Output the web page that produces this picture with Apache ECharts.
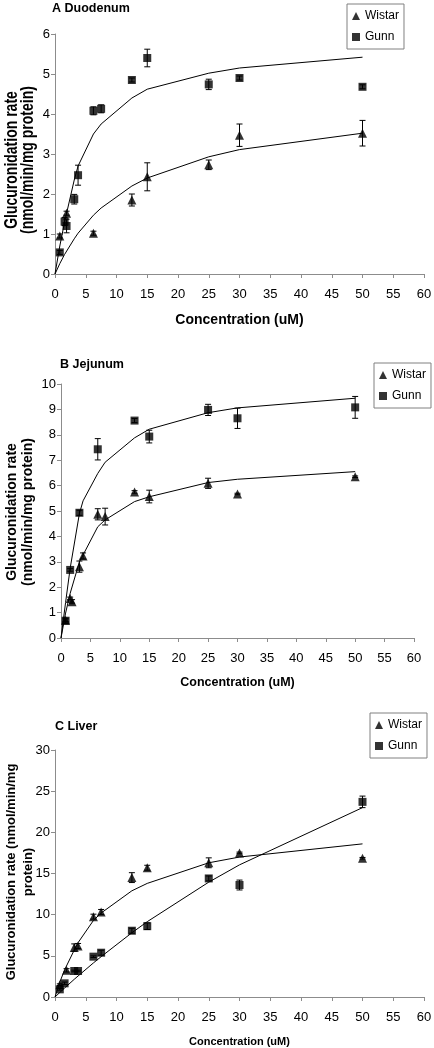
<!DOCTYPE html>
<html><head><meta charset="utf-8">
<script src="https://cdn.jsdelivr.net/npm/echarts@6/dist/echarts.min.js"></script>
<style>html,body{margin:0;padding:0;background:#fff}#c{width:434px;height:1048px}</style>
</head><body><div id="c"></div>
<script>
// ---- text ----
const panelTitles = ['A Duodenum', 'B Jejunum', 'C Liver'];
const seriesNames = ['Wistar', 'Gunn'];
const xAxisTitle = 'Concentration (uM)';
const yAxisTitleLines = [
  ['Glucuronidation rate', '(nmol/min/mg protein)'],
  ['Glucuronidation rate', '(nmol/min/mg protein)'],
  ['Glucuronidation rate (nmol/min/mg', 'protein)']
];
const xMax = 60, xStep = 5;
const yMax = [6, 10, 30];
const yStep = [1, 1, 5];

// ---- Panel A: Duodenum ----
const aWistarConc = [0.78, 1.88, 6.25, 12.5, 15, 25, 30, 50];
const aWistarRate = [0.95, 1.52, 1.02, 1.85, 2.43, 2.73, 3.47, 3.52];
const aWistarErr  = [0.05, 0.05, 0.05, 0.15, 0.35, 0.12, 0.28, 0.32];
const aGunnConc = [0.78, 1.56, 1.88, 3.13, 3.75, 6.25, 7.5, 12.5, 15, 25, 30, 50];
const aGunnRate = [0.54, 1.31, 1.2, 1.87, 2.47, 4.08, 4.13, 4.85, 5.4, 4.74, 4.9, 4.68];
const aGunnErr  = [0.05, 0.1, 0.17, 0.12, 0.25, 0.1, 0.1, 0.05, 0.22, 0.13, 0.05, 0.05];
const aFitConc   = [0, 0.78, 1.56, 3.13, 3.75, 6.25, 7.5, 12.5, 15, 25, 30, 50];
const aWistarFit = [0, 0.26, 0.49, 0.88, 1.02, 1.47, 1.65, 2.2, 2.4, 2.93, 3.11, 3.52];
const aGunnFit   = [0, 0.7, 1.3, 2.35, 2.7, 3.5, 3.75, 4.4, 4.62, 5.02, 5.15, 5.42];

// ---- Panel B: Jejunum ----
const bWistarConc = [0.78, 1.56, 1.88, 3.13, 3.75, 6.25, 7.5, 12.5, 15, 25, 30, 50];
const bWistarRate = [0.7, 1.56, 1.43, 2.81, 3.23, 4.87, 4.78, 5.75, 5.57, 6.09, 5.67, 6.35];
const bWistarErr  = [0.05, 0.05, 0.08, 0.22, 0.12, 0.22, 0.33, 0.05, 0.25, 0.2, 0.03, 0.03];
const bGunnConc = [0.78, 1.56, 3.13, 6.25, 12.5, 15, 25, 30, 50];
const bGunnRate = [0.68, 2.68, 4.93, 7.43, 8.56, 7.93, 8.98, 8.65, 9.08];
const bGunnErr  = [0.1, 0.05, 0.1, 0.42, 0.08, 0.25, 0.22, 0.4, 0.43];
const bFitConc   = [0, 0.78, 1.56, 3.13, 3.75, 6.25, 7.5, 12.5, 15, 25, 30, 50];
const bWistarFit = [0, 0.98, 1.76, 3.0, 3.27, 4.38, 4.65, 5.37, 5.56, 6.12, 6.25, 6.55];
const bGunnFit   = [0, 1.4, 2.75, 4.9, 5.4, 6.48, 6.92, 7.88, 8.22, 8.87, 9.06, 9.44];

// ---- Panel C: Liver ----
const cWistarConc = [0.78, 1.88, 3.13, 3.75, 6.25, 7.5, 12.5, 15, 25, 30, 50];
const cWistarRate = [1.5, 3.24, 6.0, 6.2, 9.76, 10.33, 14.5, 15.7, 16.3, 17.5, 16.85];
const cWistarErr  = [0.1, 0.2, 0.45, 0.3, 0.3, 0.3, 0.6, 0.3, 0.6, 0.1, 0.1];
const cGunnConc = [0.78, 1.56, 3.13, 3.75, 6.25, 7.5, 12.5, 15, 25, 30, 50];
const cGunnRate = [0.93, 1.66, 3.16, 3.16, 4.9, 5.38, 8.05, 8.6, 14.4, 13.6, 23.7];
const cGunnErr  = [0.1, 0.15, 0.1, 0.1, 0.1, 0.3, 0.3, 0.4, 0.3, 0.6, 0.7];
const cFitConc   = [0, 0.78, 1.56, 3.13, 3.75, 6.25, 7.5, 12.5, 15, 25, 30, 50];
const cWistarFit = [0, 1.8, 3.3, 5.7, 6.6, 9.3, 10.2, 12.9, 13.8, 16.3, 17.0, 18.6];
const cGunnFit   = [0, 0.55, 1.09, 2.15, 2.55, 4.14, 4.9, 7.8, 9.15, 13.95, 16.05, 23.0];

const panels = [
  {w: [aWistarConc, aWistarRate, aWistarErr], g: [aGunnConc, aGunnRate, aGunnErr], fit: [aFitConc, aWistarFit, aGunnFit]},
  {w: [bWistarConc, bWistarRate, bWistarErr], g: [bGunnConc, bGunnRate, bGunnErr], fit: [bFitConc, bWistarFit, bGunnFit]},
  {w: [cWistarConc, cWistarRate, cWistarErr], g: [cGunnConc, cGunnRate, cGunnErr], fit: [cFitConc, cWistarFit, cGunnFit]}
];

const zip = (xs, ys, es) => xs.map((x, i) => es ? [x, ys[i], es[i]] : [x, ys[i]]);
const FONT = 'Liberation Sans, Arial, sans-serif';

const gridPos = [
  {left: 55, top: 34, width: 369, height: 240},
  {left: 61, top: 384, width: 353, height: 254},
  {left: 55, top: 750, width: 369, height: 247}
];
const titlePos = [{left: 52, top: 2}, {left: 60, top: 358}, {left: 55, top: 720}];
const legendPos = [{left: 347, top: 4}, {left: 374, top: 363}, {left: 370, top: 713}];
const xNameSize = [14, 12.5, 11];
const xNameGap = [39, 38, 39];
// y-axis title placement: x of each line, vertical centre, font size, lengthwise stretch
const yTitleLayout = [
  {xs: [12, 28], cy: 160, size: 14, stretch: 1.3},
  {xs: [12, 28], cy: 512, size: 14, stretch: 1.0},
  {xs: [11, 28], cy: 872, size: 13, stretch: 1.0}
];

function errorBar(params, api) {
  const x = api.value(0), y = api.value(1), e = api.value(2);
  const top = api.coord([x, y + e]);
  const bot = api.coord([x, y - e]);
  const hw = 3;
  const st = {stroke: '#000', lineWidth: 1};
  return {type: 'group', children: [
    {type: 'line', shape: {x1: top[0], y1: top[1], x2: bot[0], y2: bot[1]}, style: st},
    {type: 'line', shape: {x1: top[0] - hw, y1: top[1], x2: top[0] + hw, y2: top[1]}, style: st},
    {type: 'line', shape: {x1: bot[0] - hw, y1: bot[1], x2: bot[0] + hw, y2: bot[1]}, style: st}
  ]};
}

const yTitleElements = [];
yAxisTitleLines.forEach((lines, i) => {
  const L = yTitleLayout[i];
  lines.forEach((t, k) => {
    yTitleElements.push({
      type: 'text', x: L.xs[k], y: L.cy, rotation: Math.PI / 2, scaleY: L.stretch, silent: true,
      style: {text: t, font: 'bold ' + L.size + 'px ' + FONT, fill: '#000',
        textAlign: 'center', textVerticalAlign: 'middle', align: 'center', verticalAlign: 'middle'}
    });
  });
});

const option = {
  animation: false,
  backgroundColor: '#fff',
  title: panelTitles.map((t, i) => ({
    text: t, left: titlePos[i].left, top: titlePos[i].top, padding: 0,
    textStyle: {fontFamily: FONT, fontSize: 12.5, fontWeight: 'bold', color: '#000'}
  })),
  legend: legendPos.map(p => ({
    left: p.left, top: p.top, orient: 'vertical',
    data: [{name: seriesNames[0], icon: 'triangle'}, {name: seriesNames[1], icon: 'rect'}],
    itemWidth: 8, itemHeight: 8, itemGap: 9,
    padding: [6, 5, 6, 5],
    borderColor: '#808080', borderWidth: 1, backgroundColor: '#fff',
    selectedMode: false,
    textStyle: {fontFamily: FONT, fontSize: 12, color: '#000'}
  })),
  graphic: {elements: yTitleElements},
  grid: gridPos.map(g => Object.assign({containLabel: false, outerBoundsMode: 'none'}, g)),
  xAxis: gridPos.map((g, i) => ({
    type: 'value', gridIndex: i, min: 0, max: xMax, interval: xStep,
    name: xAxisTitle, nameLocation: 'middle', nameGap: xNameGap[i],
    nameTextStyle: {fontFamily: FONT, fontSize: xNameSize[i], fontWeight: 'bold', color: '#000'},
    axisLine: {lineStyle: {color: '#8c8c8c', width: 1}},
    axisTick: {length: 4, lineStyle: {color: '#8c8c8c'}},
    axisLabel: {fontFamily: FONT, fontSize: 13, color: '#000', margin: 14},
    splitLine: {show: false}
  })),
  yAxis: gridPos.map((g, i) => ({
    type: 'value', gridIndex: i, min: 0, max: yMax[i], interval: yStep[i],
    axisLine: {show: true, lineStyle: {color: '#8c8c8c', width: 1}},
    axisTick: {show: true, length: 4, lineStyle: {color: '#8c8c8c'}},
    axisLabel: {fontFamily: FONT, fontSize: 13, color: '#000', margin: 5},
    splitLine: {show: false}
  })),
  series: []
};

panels.forEach((p, i) => {
  const fitStyle = {type: 'line', xAxisIndex: i, yAxisIndex: i, showSymbol: false, symbol: 'none',
    lineStyle: {color: '#000', width: 1}, z: 2, silent: true};
  option.series.push(Object.assign({name: 'fitW' + i, data: zip(p.fit[0], p.fit[1])}, fitStyle));
  option.series.push(Object.assign({name: 'fitG' + i, data: zip(p.fit[0], p.fit[2])}, fitStyle));
  option.series.push({type: 'custom', name: 'errW' + i, xAxisIndex: i, yAxisIndex: i, renderItem: errorBar,
    data: zip(p.w[0], p.w[1], p.w[2]), encode: {x: 0, y: 1}, z: 3, silent: true});
  option.series.push({type: 'custom', name: 'errG' + i, xAxisIndex: i, yAxisIndex: i, renderItem: errorBar,
    data: zip(p.g[0], p.g[1], p.g[2]), encode: {x: 0, y: 1}, z: 3, silent: true});
  option.series.push({type: 'scatter', name: seriesNames[0], xAxisIndex: i, yAxisIndex: i,
    symbol: 'triangle', symbolSize: 9, itemStyle: {color: '#000'}, z: 4,
    data: zip(p.w[0], p.w[1])});
  option.series.push({type: 'scatter', name: seriesNames[1], xAxisIndex: i, yAxisIndex: i,
    symbol: 'rect', symbolSize: 8, itemStyle: {color: '#000'}, z: 4,
    data: zip(p.g[0], p.g[1])});
});

const chart = echarts.init(document.getElementById('c'), null, {renderer: 'canvas'});
chart.setOption(option);
</script>
</body></html>
